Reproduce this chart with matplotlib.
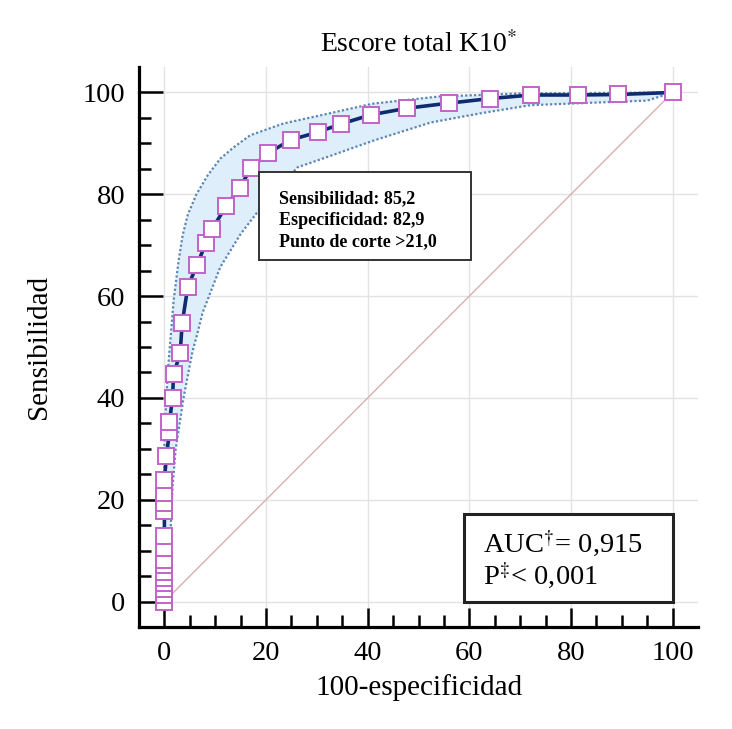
import matplotlib
matplotlib.use("Agg")
import matplotlib.pyplot as plt
from matplotlib.patches import Rectangle
import numpy as np

plt.rcParams['font.family'] = ['Liberation Serif', 'DejaVu Serif']
plt.rcParams['mathtext.fontset'] = 'stix'

# ROC curve points (100-especificidad, sensibilidad)
roc_x = [0, 0, 0, 0, 0, 0, 0, 0, 0, 0, 0, 0, 0, 0, 0.4, 1.0, 1.0, 1.6, 1.8, 3.1,
         3.5, 4.6, 6.4, 8.2, 9.4, 12.1, 14.8, 17.1, 20.4, 24.9, 30.2, 34.7, 40.6,
         47.7, 56.0, 64.1, 72.2, 81.3, 89.3, 100]
roc_y = [0, 1.2, 2.4, 3.6, 4.7, 5.9, 7.1, 8.2, 10.5, 12.9, 17.7, 19.4, 21.4, 23.9,
         28.6, 33.4, 35.3, 40.0, 44.6, 48.8, 54.7, 61.8, 66.1, 70.5, 73.2, 77.6,
         81.3, 85.2, 88.1, 90.7, 92.2, 93.8, 95.6, 96.9, 97.9, 98.8, 99.5, 99.5,
         99.6, 100]

# Confidence band: upper bound
ci_up_x = [0, 0, 0.3, 0.6, 0.9, 1.4, 1.8, 2.3, 2.8, 3.6, 4.6, 6.3, 8.5, 11.0,
           13.6, 16.9, 23.4, 30.7, 41.0, 54.0, 70.0, 100]
ci_up_y = [0, 33, 38, 44, 48, 54, 59, 63, 67, 72, 76, 80, 83.7, 87.0, 89.2,
           91.6, 93.9, 95.5, 97.8, 99.2, 99.8, 100]
# Confidence band: lower bound
ci_lo_x = [0, 0.8, 1.2, 1.6, 2.2, 3.8, 5.5, 6.5, 7.5, 11.0, 15.0, 18.3, 26.2,
           32.0, 41.0, 52.4, 62.2, 72.0, 82.0, 95.0, 100]
ci_lo_y = [0, 8, 13.5, 22.5, 29.8, 40.2, 49.0, 52.7, 56.7, 65.7, 72.2, 76.5,
           85.3, 87.3, 90.5, 94.1, 95.9, 97.5, 97.9, 98.4, 100]

major_ticks = [0, 20, 40, 60, 80, 100]
minor_ticks = list(range(0, 101, 5))

title_txt = "Escore total K10$^{*}$"
xlabel_txt = "100-especificidad"
ylabel_txt = "Sensibilidad"
box1_lines = ["Sensibilidad: 85,2", "Especificidad: 82,9", "Punto de corte >21,0"]
box2_lines = [r"AUC$^{\dagger}$= 0,915", r"P$^{\ddagger}$< 0,001"]

fig = plt.figure(figsize=(7.32, 7.29), dpi=100)
ax = fig.add_axes([139/732, 1-627/729, (698-139)/732, (627-67)/729])
ax.set_xlim(-5, 105)
ax.set_ylim(-5, 105)

for s in ['top', 'right']:
    ax.spines[s].set_visible(False)
for s in ['left', 'bottom']:
    ax.spines[s].set_linewidth(2.3)
    ax.spines[s].set_color('black')

ax.set_xticks(major_ticks)
ax.set_yticks(major_ticks)
ax.set_xticks(minor_ticks, minor=True)
ax.set_yticks(minor_ticks, minor=True)
ax.tick_params(axis='y', which='major', direction='in', length=17, width=1.8, labelsize=20.5, pad=10)
ax.tick_params(axis='y', which='minor', direction='in', length=8.5, width=1.8)
ax.tick_params(axis='x', which='major', direction='in', length=14, width=1.8, labelsize=20.5, pad=10)
ax.tick_params(axis='x', which='minor', direction='in', length=8.5, width=1.8)
ax.grid(True, which='major', color='#e3e3e3', lw=1.0, zorder=0)
ax.set_axisbelow(True)

# diagonal reference line
ax.plot([0, 100], [0, 100], color='#d9b0b0', lw=1.0, zorder=1)

# confidence band
band_x = ci_up_x + ci_lo_x[::-1]
band_y = ci_up_y + ci_lo_y[::-1]
ax.fill(band_x, band_y, color='#deeefa', lw=0, zorder=2)
ax.plot(ci_up_x, ci_up_y, color='#5b86b3', ls=(0, (1, 1)), lw=1.6, zorder=3)
ax.plot(ci_lo_x, ci_lo_y, color='#5b86b3', ls=(0, (1, 1)), lw=1.6, zorder=3)

# ROC curve
ax.plot(roc_x, roc_y, color='#0f2d6e', lw=2.6, marker='s', markersize=11,
        markerfacecolor='white', markeredgecolor='#c064c8', markeredgewidth=1.4, zorder=4)

# text box 1
ax.add_patch(Rectangle((18.7, 67.1), 41.7, 17.2, facecolor='white', edgecolor='#333333',
                       lw=1.4, zorder=6))
for i, t in enumerate(box1_lines):
    ax.text(22.6, 79.2 - i * 4.3, t, fontsize=13, fontweight='bold', ha='left',
            va='center', zorder=7)

# text box 2
ax.add_patch(Rectangle((58.9, 0.0), 41.1, 17.1, facecolor='white', edgecolor='#222222',
                       lw=2.2, zorder=6))
for i, t in enumerate(box2_lines):
    ax.text(62.6, 11.4 - i * 6.3, t, fontsize=20.5, ha='left', va='center', zorder=7)

ax.set_title(title_txt, fontsize=20, pad=11)
ax.set_xlabel(xlabel_txt, fontsize=21, labelpad=6)
ax.set_ylabel(ylabel_txt, fontsize=21, labelpad=22)

fig.savefig('out.png', dpi=100)
